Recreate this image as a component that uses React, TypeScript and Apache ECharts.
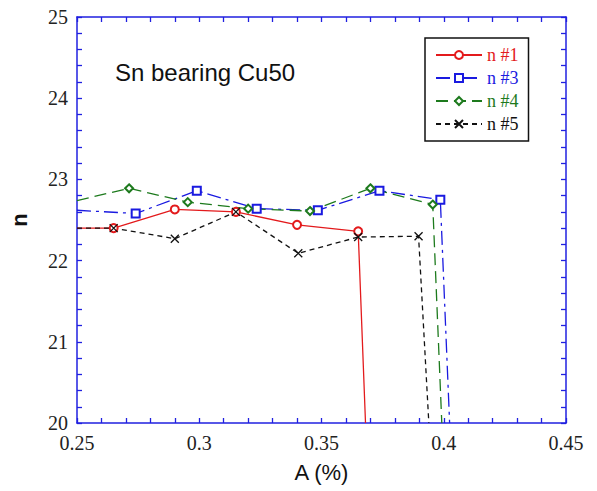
import React, { useEffect, useRef } from "react";
import * as echarts from "echarts";

const aN1 = [0.25, 0.265, 0.29, 0.315, 0.34, 0.365, 0.368];
const n1 = [22.4, 22.4, 22.63, 22.6, 22.44, 22.36, 20.0];

const aN3 = [0.25, 0.274, 0.299, 0.3235, 0.3485, 0.3737, 0.3986, 0.4024];
const n3 = [22.62, 22.58, 22.86, 22.64, 22.62, 22.86, 22.75, 20.0];

const aN4 = [0.25, 0.2713, 0.2953, 0.32, 0.3453, 0.37, 0.3955, 0.3992];
const n4 = [22.74, 22.89, 22.72, 22.64, 22.61, 22.89, 22.69, 20.0];

const aN5 = [0.25, 0.265, 0.29, 0.315, 0.3405, 0.365, 0.3897, 0.3939];
const n5 = [22.4, 22.4, 22.27, 22.6, 22.09, 22.29, 22.3, 20.0];

const seriesNames = ["n #1", "n #3", "n #4", "n #5"];
const seriesColors = ["#e31a1c", "#1a1ae0", "#1d7a1d", "#111111"];
const AXIS = "#2020e0";

const buildData = (xs: number[], ys: number[]) =>
  xs.map((x, i) => {
    const item: any = { value: [x, ys[i]] };
    if (i === 0 || i === xs.length - 1) item.symbol = "none";
    return item;
  });

export default function App() {
  const ref = useRef<HTMLDivElement>(null);
  useEffect(() => {
    if (!ref.current) return;
    const chart = echarts.init(ref.current, null, { renderer: "svg" });
    const tickCommon = {
      axisLine: { show: true, lineStyle: { color: AXIS, width: 1.5 } },
      axisTick: { show: true, inside: true, length: 5, lineStyle: { color: AXIS, width: 1.3 } },
      minorTick: { show: true, splitNumber: 5, length: 5, lineStyle: { color: AXIS, width: 1.3 } },
      splitLine: { show: false },
    };
    const option: any = {
      animation: false,
      backgroundColor: "#ffffff",
      grid: { left: 77, right: 31, top: 17, bottom: 68 },
      xAxis: [
        {
          type: "value",
          min: 0.25,
          max: 0.45,
          interval: 0.05,
          ...tickCommon,
          axisLabel: {
            color: "#222",
            fontFamily: "Liberation Serif",
            fontSize: 20,
            margin: 10,
          },
          name: "A (%)",
          nameLocation: "middle",
          nameGap: 38,
          nameTextStyle: { color: "#111", fontFamily: "Liberation Sans", fontSize: 22 },
        },
        {
          type: "value",
          position: "top",
          min: 0.25,
          max: 0.45,
          interval: 0.05,
          ...tickCommon,
          axisLabel: { show: false },
        },
      ],
      yAxis: [
        {
          type: "value",
          min: 20,
          max: 25,
          interval: 1,
          ...tickCommon,
          axisLabel: {
            color: "#222",
            fontFamily: "Liberation Serif",
            fontSize: 20,
            margin: 9,
          },
          name: "n",
          nameLocation: "middle",
          nameGap: 47,
          nameTextStyle: { color: "#111", fontFamily: "Liberation Sans", fontSize: 22, fontWeight: "bold" },
        },
        {
          type: "value",
          position: "right",
          min: 20,
          max: 25,
          interval: 1,
          ...tickCommon,
          axisLabel: { show: false },
        },
      ],
      legend: {
        orient: "vertical",
        left: 425,
        top: 38,
        backgroundColor: "#fff",
        borderColor: "#111",
        borderWidth: 1.5,
        padding: [8, 10, 8, 10],
        itemGap: 5,
        itemWidth: 46,
        itemHeight: 10,
        data: seriesNames.map((n, i) => ({
          name: n,
          textStyle: { color: seriesColors[i], fontFamily: "Liberation Serif", fontSize: 18 },
        })),
      },
      graphic: [
        {
          type: "text",
          left: 115,
          top: 60,
          style: {
            text: "Sn bearing Cu50",
            fill: "#111",
            font: "24px 'Liberation Sans'",
          },
        },
      ],
      series: [
        {
          name: seriesNames[0],
          type: "line",
          clip: true,
          symbol: "emptyCircle",
          symbolSize: 8,
          data: buildData(aN1, n1),
          lineStyle: { color: seriesColors[0], width: 1.3, type: "solid" },
          itemStyle: { color: seriesColors[0], borderWidth: 1.3 },
        },
        {
          name: seriesNames[1],
          type: "line",
          clip: true,
          symbol: "emptyRect",
          symbolSize: 8,
          data: buildData(aN3, n3),
          lineStyle: { color: seriesColors[1], width: 1.3, type: [14, 5, 3, 5] },
          itemStyle: { color: seriesColors[1], borderWidth: 1.3 },
        },
        {
          name: seriesNames[2],
          type: "line",
          clip: true,
          symbol: "emptyDiamond",
          symbolSize: 8,
          data: buildData(aN4, n4),
          lineStyle: { color: seriesColors[2], width: 1.3, type: [12, 6] },
          itemStyle: { color: seriesColors[2], borderWidth: 1.3 },
        },
        {
          name: seriesNames[3],
          type: "line",
          clip: true,
          symbol: "path://M0,0L10,10M10,0L0,10",
          symbolSize: 8,
          data: buildData(aN5, n5),
          lineStyle: { color: seriesColors[3], width: 1.3, type: [5, 4] },
          itemStyle: { color: "rgba(255,255,255,0)", borderColor: seriesColors[3], borderWidth: 1.3 },
        },
      ],
    };
    chart.setOption(option);
    return () => chart.dispose();
  }, []);
  return (
    <div
      ref={ref}
      style={{ position: "fixed", left: 0, top: 0, width: 597, height: 491 }}
    />
  );
}
